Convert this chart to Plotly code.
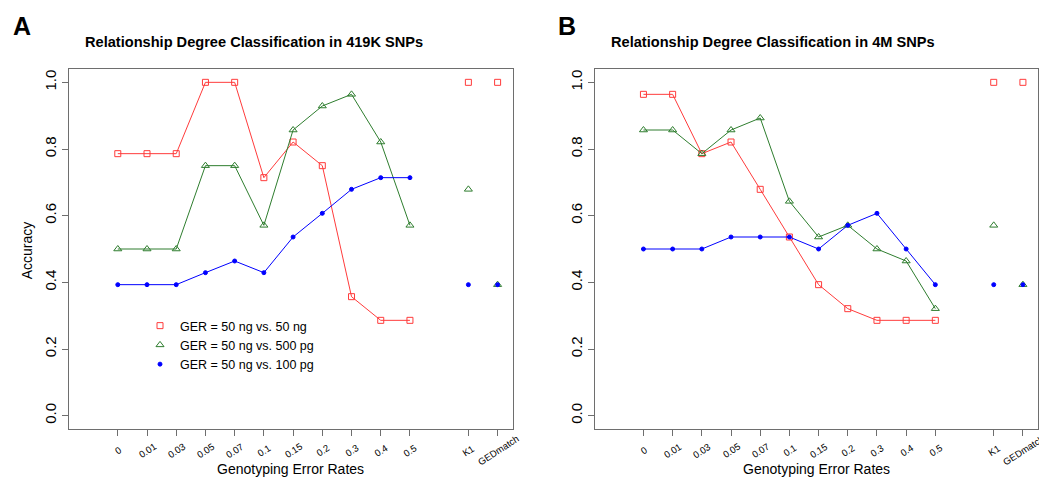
import plotly.graph_objects as go

# Categories on the x axis
rate_labels = ["0", "0.01", "0.03", "0.05", "0.07", "0.1", "0.15", "0.2", "0.3", "0.4", "0.5"]
tool_labels = ["K1", "GEDmatch"]

series_names = ["GER = 50 ng vs. 50 ng", "GER = 50 ng vs. 500 pg", "GER = 50 ng vs. 100 pg"]

# Accuracy, 419K SNP panel
acc_419k_50ng = [0.786, 0.786, 0.786, 1.0, 1.0, 0.714, 0.821, 0.75, 0.357, 0.286, 0.286]
acc_419k_500pg = [0.5, 0.5, 0.5, 0.75, 0.75, 0.571, 0.857, 0.929, 0.964, 0.821, 0.571]
acc_419k_100pg = [0.393, 0.393, 0.393, 0.429, 0.464, 0.429, 0.536, 0.607, 0.679, 0.714, 0.714]
tools_419k_50ng = [1.0, 1.0]
tools_419k_500pg = [0.679, 0.393]
tools_419k_100pg = [0.393, 0.393]

# Accuracy, 4M SNP panel
acc_4m_50ng = [0.964, 0.964, 0.786, 0.821, 0.679, 0.536, 0.393, 0.321, 0.286, 0.286, 0.286]
acc_4m_500pg = [0.857, 0.857, 0.786, 0.857, 0.893, 0.643, 0.536, 0.571, 0.5, 0.464, 0.321]
acc_4m_100pg = [0.5, 0.5, 0.5, 0.536, 0.536, 0.536, 0.5, 0.571, 0.607, 0.5, 0.393]
tools_4m_50ng = [1.0, 1.0]
tools_4m_500pg = [0.571, 0.393]
tools_4m_100pg = [0.393, 0.393]

W, H = 1039, 477
FONT = "Liberation Sans, Arial, Helvetica, sans-serif"
AXIS_GREY = "#6e6e6e"

styles = [
    dict(color="#ff3b3b", symbol="square-open", size=6),
    dict(color="#2e7d2e", symbol="triangle-up-open", size=7),
    dict(color="#0000ff", symbol="circle", size=4),
]

# rates sit on 0..10, one empty slot, then the two tools
rate_pos = list(range(len(rate_labels)))
tool_pos = [len(rate_labels) + 1 + i for i in range(len(tool_labels))]
all_pos = rate_pos + tool_pos
all_labels = rate_labels + tool_labels


def px(x):
    return x / W


def py(y):
    return 1 - y / H


fig = go.Figure()

panels = [
    ("x", "y", [acc_419k_50ng, acc_419k_500pg, acc_419k_100pg],
     [tools_419k_50ng, tools_419k_500pg, tools_419k_100pg], True),
    ("x2", "y2", [acc_4m_50ng, acc_4m_500pg, acc_4m_100pg],
     [tools_4m_50ng, tools_4m_500pg, tools_4m_100pg], False),
]

for xa, ya, rates, tools, legend in panels:
    for name, st, r_vals, t_vals in zip(series_names, styles, rates, tools):
        marker = dict(color=st["color"], symbol=st["symbol"], size=st["size"],
                      line=dict(color=st["color"], width=1))
        fig.add_trace(go.Scatter(
            x=rate_pos, y=r_vals, xaxis=xa, yaxis=ya, mode="lines+markers",
            name=name, showlegend=False,
            line=dict(color=st["color"], width=1), marker=marker))
        # the unconnected tool points carry the symbol-only legend entry
        fig.add_trace(go.Scatter(
            x=tool_pos, y=t_vals, xaxis=xa, yaxis=ya, mode="markers",
            name=name, showlegend=legend, marker=marker))

    # slanted tick labels, each centred under its tick
    for pos, lab in zip(all_pos, all_labels):
        fig.add_annotation(text=lab, x=pos, xref=xa, y=py(450), yref="paper",
                           xanchor="center", yanchor="middle", showarrow=False,
                           textangle=-33, font=dict(family=FONT, size=9.5, color="#000"))

x_common = dict(
    range=[-1.67, 13.51], tickmode="array", tickvals=all_pos, showticklabels=False,
    ticks="outside", ticklen=6, tickcolor=AXIS_GREY, showline=True, linecolor=AXIS_GREY,
    linewidth=1, mirror=True, showgrid=False, zeroline=False,
)
y_common = dict(
    range=[-0.04, 1.04], tickmode="array", tickvals=[0, 0.2, 0.4, 0.6, 0.8, 1.0],
    ticktext=["0.0", "0.2", "0.4", "0.6", "0.8", "1.0"], tickangle=-90,
    tickfont=dict(family=FONT, size=15, color="#000"), ticks="outside", ticklen=6,
    tickcolor=AXIS_GREY, showline=True, linecolor=AXIS_GREY, linewidth=1, mirror=True,
    showgrid=False, zeroline=False, domain=[py(429), py(69)],
)

fig.update_layout(
    width=W, height=H, autosize=False,
    margin=dict(l=0, r=0, t=0, b=0),
    paper_bgcolor="white", plot_bgcolor="white",
    font=dict(family=FONT, color="#000"),
    xaxis=dict(x_common, domain=[px(69), px(512.5)], anchor="y"),
    yaxis=dict(y_common, anchor="x"),
    xaxis2=dict(x_common, domain=[px(594.7), px(1037.8)], anchor="y2"),
    yaxis2=dict(y_common, anchor="x2"),
    legend=dict(x=px(140), y=py(311), xanchor="left", yanchor="top",
                font=dict(family=FONT, size=12.5, color="#000"), tracegroupgap=0,
                bgcolor="rgba(0,0,0,0)", borderwidth=0),
)

annotations = [
    dict(text="<b>A</b>", x=px(21.5), y=py(26), size=25),
    dict(text="<b>B</b>", x=px(566.5), y=py(26), size=25),
    dict(text="<b>Relationship Degree Classification in 419K SNPs</b>", x=px(254), y=py(41.7), size=14.6),
    dict(text="<b>Relationship Degree Classification in 4M SNPs</b>", x=px(773), y=py(41.7), size=14.6),
    dict(text="Genotyping Error Rates", x=px(290.7), y=py(469), size=14),
    dict(text="Genotyping Error Rates", x=px(816.3), y=py(469), size=14),
]
for a in annotations:
    fig.add_annotation(text=a["text"], x=a["x"], y=a["y"], xref="paper", yref="paper",
                       xanchor="center", yanchor="middle", showarrow=False,
                       font=dict(family=FONT, size=a["size"], color="#000"))
fig.add_annotation(text="Accuracy", x=px(27.3), y=py(250), xref="paper", yref="paper",
                   xanchor="center", yanchor="middle", showarrow=False, textangle=-90,
                   font=dict(family=FONT, size=14, color="#000"))

fig.write_html("out.html")
